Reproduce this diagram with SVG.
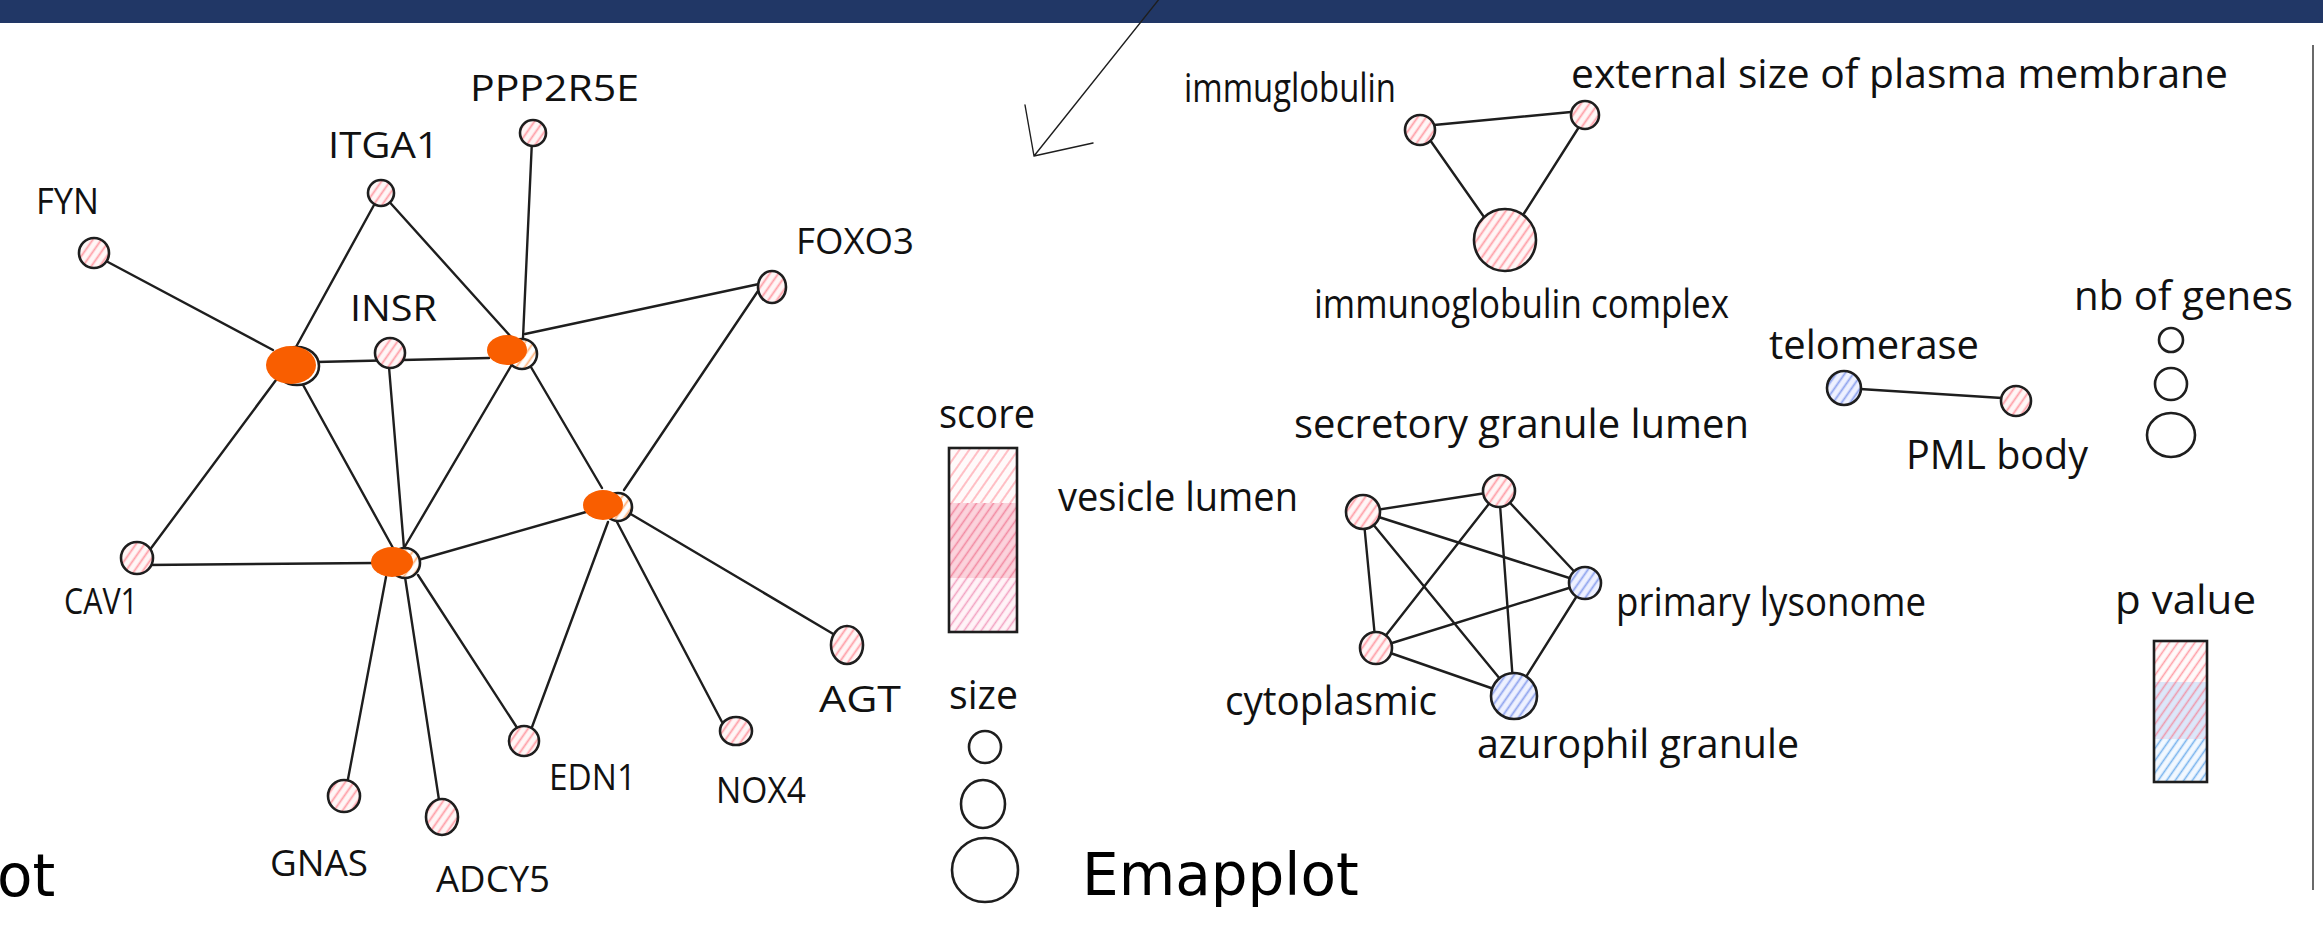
<svg xmlns="http://www.w3.org/2000/svg" width="2323" height="928" viewBox="0 0 2323 928">
<defs>
<pattern id="hp" patternUnits="userSpaceOnUse" width="7" height="7" patternTransform="rotate(35)">
<rect width="7" height="7" fill="#fff6f6"/><line x1="3.5" y1="0" x2="3.5" y2="7" stroke="#ff9ea6" stroke-width="1.8"/>
</pattern>
<pattern id="hb" patternUnits="userSpaceOnUse" width="7" height="7" patternTransform="rotate(35)">
<rect width="7" height="7" fill="#eef1ff"/><line x1="3.5" y1="0" x2="3.5" y2="7" stroke="#8ea3ee" stroke-width="1.8"/>
</pattern>
<pattern id="ho" patternUnits="userSpaceOnUse" width="7" height="7" patternTransform="rotate(35)">
<rect width="7" height="7" fill="#ffffff"/><line x1="3.5" y1="0" x2="3.5" y2="7" stroke="#ffb27a" stroke-width="1.8"/>
</pattern>
<pattern id="s1" patternUnits="userSpaceOnUse" width="8" height="8" patternTransform="rotate(35)">
<rect width="8" height="8" fill="#fffafa"/><line x1="4" y1="0" x2="4" y2="8" stroke="#ffb0b8" stroke-width="1.6"/>
</pattern>
<pattern id="s2" patternUnits="userSpaceOnUse" width="7" height="7" patternTransform="rotate(35)">
<rect width="7" height="7" fill="#fbd3dc"/><line x1="3.5" y1="0" x2="3.5" y2="7" stroke="#f28aa2" stroke-width="1.6"/>
</pattern>
<pattern id="s3" patternUnits="userSpaceOnUse" width="7" height="7" patternTransform="rotate(35)">
<rect width="7" height="7" fill="#fff3f7"/><line x1="3.5" y1="0" x2="3.5" y2="7" stroke="#f2a2c2" stroke-width="1.6"/>
</pattern>
<pattern id="p1" patternUnits="userSpaceOnUse" width="7" height="7" patternTransform="rotate(35)">
<rect width="7" height="7" fill="#fffafa"/><line x1="3.5" y1="0" x2="3.5" y2="7" stroke="#ff9ea6" stroke-width="1.6"/>
</pattern>
<pattern id="p2" patternUnits="userSpaceOnUse" width="7" height="7" patternTransform="rotate(35)">
<rect width="7" height="7" fill="#dce7fa"/><line x1="3.5" y1="0" x2="3.5" y2="7" stroke="#ef98ac" stroke-width="1.6"/>
</pattern>
<pattern id="p3" patternUnits="userSpaceOnUse" width="7" height="7" patternTransform="rotate(35)">
<rect width="7" height="7" fill="#f2f8ff"/><line x1="3.5" y1="0" x2="3.5" y2="7" stroke="#78b3ee" stroke-width="1.6"/>
</pattern>
<style>
.e{stroke:#1e1e1e;stroke-width:2.4;fill:none;stroke-linecap:round}
.n{stroke:#1e1e1e;stroke-width:2.6}
.pk{fill:url(#hp)}
.bl{fill:url(#hb)}
.ob{fill:url(#ho)}
.og{fill:#f95e00}
.lg{fill:#ffffff;stroke:#1e1e1e;stroke-width:2.6}
.t{font-family:"Open Sans","DejaVu Sans",sans-serif;font-size:40px;font-weight:400;fill:#111111}
.u{font-size:36px}
.big{font-family:"DejaVu Sans",sans-serif;font-size:58px;fill:#000000}
</style>
</defs>
<rect width="2323" height="928" fill="#ffffff"/>
<rect x="0" y="0" width="2323" height="23" fill="#213766"/>
<g id="pointer">
<path d="M1160 -2 L1034 156 M1034 156 L1025 105 M1034 156 L1093 143" fill="none" stroke="#1e1e1e" stroke-width="1.4" stroke-linecap="round"/>
</g>
<line x1="2313" y1="45" x2="2313" y2="890" stroke="#444" stroke-width="1.6"/>
<g id="connectors">
<path class="e" d="M106 261 L273 350"/>
<path class="e" d="M374 205 L296 347"/>
<path class="e" d="M385 197 L512 338"/>
<path class="e" d="M532 140 L523 338"/>
<path class="e" d="M759 284 L525 334"/>
<path class="e" d="M760 288 L624 490"/>
<path class="e" d="M316 362 L489 358"/>
<path class="e" d="M389 367 L404 548"/>
<path class="e" d="M276 380 L146 555"/>
<path class="e" d="M302 383 L393 548"/>
<path class="e" d="M511 366 L404 548"/>
<path class="e" d="M528 362 L602 488"/>
<path class="e" d="M146 565 L375 563"/>
<path class="e" d="M418 560 L586 512"/>
<path class="e" d="M629 513 L835 635"/>
<path class="e" d="M617 522 L722 722"/>
<path class="e" d="M608 522 L532 727"/>
<path class="e" d="M418 575 L525 740"/>
<path class="e" d="M386 577 L345 795"/>
<path class="e" d="M405 577 L439 800"/>
<path class="e" d="M1434 125 L1571 112"/>
<path class="e" d="M1430 140 L1484 217"/>
<path class="e" d="M1579 127 L1523 215"/>
<path class="e" d="M1860 389 L2002 398"/>
<path class="e" d="M1363 512 L1499 491"/>
<path class="e" d="M1363 512 L1585 583"/>
<path class="e" d="M1363 512 L1376 648"/>
<path class="e" d="M1363 512 L1514 696"/>
<path class="e" d="M1499 491 L1585 583"/>
<path class="e" d="M1499 491 L1376 648"/>
<path class="e" d="M1499 491 L1514 696"/>
<path class="e" d="M1585 583 L1376 648"/>
<path class="e" d="M1585 583 L1514 696"/>
<path class="e" d="M1376 648 L1514 696"/>
</g>
<g id="FYN"><circle class="n pk" cx="94" cy="253" r="15"/><text class="t u" x="36" y="214" textLength="63" lengthAdjust="spacingAndGlyphs">FYN</text></g>
<g id="ITGA1"><circle class="n pk" cx="381" cy="193" r="13"/><text class="t u" x="328" y="158" textLength="111" lengthAdjust="spacingAndGlyphs">ITGA1</text></g>
<g id="PPP2R5E"><circle class="n pk" cx="533" cy="133" r="13"/><text class="t u" x="470" y="101" textLength="169" lengthAdjust="spacingAndGlyphs">PPP2R5E</text></g>
<g id="FOXO3"><ellipse class="n pk" cx="772" cy="287" rx="14" ry="16"/><text class="t u" x="796" y="254" textLength="118" lengthAdjust="spacingAndGlyphs">FOXO3</text></g>
<g id="INSR"><circle class="n pk" cx="390" cy="353" r="15"/><text class="t u" x="350" y="321" textLength="87" lengthAdjust="spacingAndGlyphs">INSR</text></g>
<g id="CAV1"><circle class="n pk" cx="137" cy="558" r="16"/><text class="t u" x="64" y="614" textLength="74" lengthAdjust="spacingAndGlyphs">CAV1</text></g>
<g id="AGT"><ellipse class="n pk" cx="847" cy="645" rx="16" ry="19"/><text class="t u" x="819" y="712" textLength="82" lengthAdjust="spacingAndGlyphs">AGT</text></g>
<g id="NOX4"><ellipse class="n pk" cx="736" cy="731" rx="16" ry="14"/><text class="t u" x="716" y="803" textLength="90" lengthAdjust="spacingAndGlyphs">NOX4</text></g>
<g id="EDN1"><circle class="n pk" cx="524" cy="741" r="15"/><text class="t u" x="549" y="790" textLength="87" lengthAdjust="spacingAndGlyphs">EDN1</text></g>
<g id="GNAS"><circle class="n pk" cx="344" cy="796" r="16"/><text class="t u" x="270" y="876" textLength="98" lengthAdjust="spacingAndGlyphs">GNAS</text></g>
<g id="ADCY5"><ellipse class="n pk" cx="442" cy="817" rx="16" ry="18"/><text class="t u" x="436" y="892" textLength="114" lengthAdjust="spacingAndGlyphs">ADCY5</text></g>
<g id="hub1"><ellipse class="n" fill="#fff" cx="297" cy="366" rx="22" ry="19"/><ellipse class="og" cx="291" cy="365" rx="25" ry="19"/></g>
<g id="hub2"><circle class="n ob" cx="522" cy="354" r="15"/><ellipse class="og" cx="507" cy="350" rx="20" ry="15"/></g>
<g id="hub3"><circle class="n ob" cx="618" cy="507" r="14"/><ellipse class="og" cx="603" cy="505" rx="20" ry="15"/></g>
<g id="hub4"><circle class="n ob" cx="405" cy="563" r="15"/><ellipse class="og" cx="392" cy="562" rx="21" ry="15"/></g>
<g id="score-legend">
<text class="t" x="939" y="428" textLength="96" lengthAdjust="spacingAndGlyphs">score</text>
<rect x="949" y="448" width="68" height="55" fill="url(#s1)"/>
<rect x="949" y="503" width="68" height="75" fill="url(#s2)"/>
<rect x="949" y="578" width="68" height="54" fill="url(#s3)"/>
<rect x="949" y="448" width="68" height="184" fill="none" stroke="#1e1e1e" stroke-width="2.6"/>
</g>
<g id="size-legend">
<text class="t" x="949" y="709" textLength="69" lengthAdjust="spacingAndGlyphs">size</text>
<circle class="lg" cx="985" cy="747" r="16"/>
<ellipse class="lg" cx="983" cy="804" rx="22" ry="24"/>
<ellipse class="lg" cx="985" cy="870" rx="33" ry="32"/>
</g>
<text class="big" x="-3" y="896">ot</text>
<text class="big" x="1082" y="895">Emapplot</text>
<g id="immuglobulin"><circle class="n pk" cx="1420" cy="130" r="15"/><text class="t" x="1184" y="102" textLength="212" lengthAdjust="spacingAndGlyphs">immuglobulin</text></g>
<g id="external"><circle class="n pk" cx="1585" cy="115" r="14"/><text class="t" x="1571" y="88" textLength="657" lengthAdjust="spacingAndGlyphs">external size of plasma membrane</text></g>
<g id="igcomplex"><circle class="n pk" cx="1505" cy="240" r="31"/><text class="t" x="1314" y="318" textLength="415" lengthAdjust="spacingAndGlyphs">immunoglobulin complex</text></g>
<g id="telomerase"><circle class="n bl" cx="1844" cy="388" r="17"/><text class="t" x="1769" y="359" textLength="210" lengthAdjust="spacingAndGlyphs">telomerase</text></g>
<g id="pml"><circle class="n pk" cx="2016" cy="401" r="15"/><text class="t" x="1906" y="469" textLength="182" lengthAdjust="spacingAndGlyphs">PML body</text></g>
<g id="sgl"><circle class="n pk" cx="1499" cy="491" r="16"/><text class="t" x="1294" y="438" textLength="455" lengthAdjust="spacingAndGlyphs">secretory granule lumen</text></g>
<g id="vl"><circle class="n pk" cx="1363" cy="512" r="17"/><text class="t" x="1058" y="511" textLength="240" lengthAdjust="spacingAndGlyphs">vesicle lumen</text></g>
<g id="pl"><circle class="n bl" cx="1585" cy="583" r="16"/><text class="t" x="1616" y="616" textLength="310" lengthAdjust="spacingAndGlyphs">primary lysonome</text></g>
<g id="cyt"><circle class="n pk" cx="1376" cy="648" r="16"/><text class="t" x="1225" y="715" textLength="212" lengthAdjust="spacingAndGlyphs">cytoplasmic</text></g>
<g id="az"><circle class="n bl" cx="1514" cy="696" r="23"/><text class="t" x="1477" y="758" textLength="322" lengthAdjust="spacingAndGlyphs">azurophil granule</text></g>
<g id="genes-legend">
<text class="t" x="2074" y="310" textLength="219" lengthAdjust="spacingAndGlyphs">nb of genes</text>
<circle class="lg" cx="2171" cy="340" r="12"/>
<circle class="lg" cx="2171" cy="384" r="16"/>
<ellipse class="lg" cx="2171" cy="435" rx="24" ry="22"/>
</g>
<g id="pvalue-legend">
<text class="t" x="2115" y="614" textLength="141" lengthAdjust="spacingAndGlyphs">p value</text>
<rect x="2154" y="641" width="53" height="41" fill="url(#p1)"/>
<rect x="2154" y="682" width="53" height="57" fill="url(#p2)"/>
<rect x="2154" y="739" width="53" height="43" fill="url(#p3)"/>
<rect x="2154" y="641" width="53" height="141" fill="none" stroke="#1e1e1e" stroke-width="2.6"/>
</g>
</svg>
